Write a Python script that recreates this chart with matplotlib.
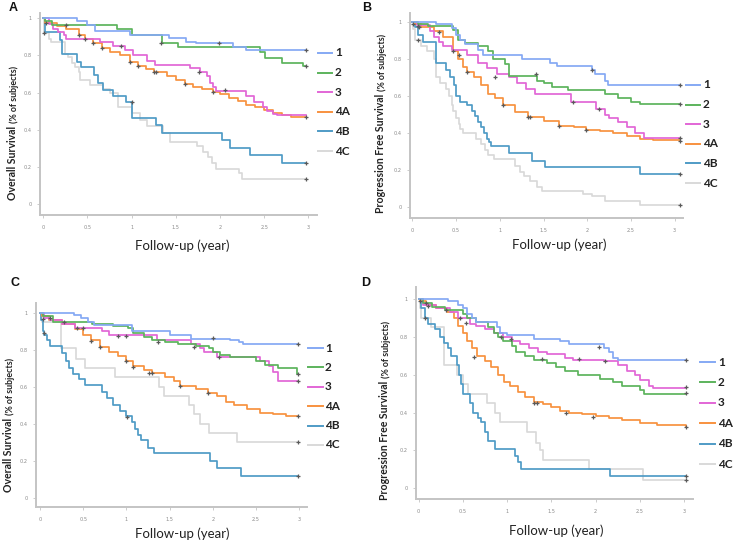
import numpy as np
import matplotlib
matplotlib.use('Agg')
import matplotlib.pyplot as plt
from matplotlib.lines import Line2D

# ---------------- data ----------------
groups = ['1', '2', '3', '4A', '4B', '4C']
x_ticks = [0, 0.5, 1, 1.5, 2, 2.5, 3]
x_tick_labels = ['0', '0.5', '1', '1.5', '2', '2.5', '3']
y_ticks = [0, 0.2, 0.4, 0.6, 0.8, 1.0]
y_tick_labels = ['0', '0.2', '0.4', '0.6', '0.8', '1']
panel_letters = ['A', 'B', 'C', 'D']
ylabel_main = ['Overall Survival', 'Progression Free Survival',
               'Overall Survival', 'Progression Free Survival']
ylabel_sub = '(% of subjects)'
xlabel = 'Follow-up (year)'

# Panel A (overall survival)
A1_t = [0, 0.38, 0.49, 0.58, 0.98, 1.42, 1.62, 1.73, 2.15, 2.3, 2.97]
A1_s = [1.0, 0.987, 0.964, 0.93, 0.912, 0.893, 0.875, 0.865, 0.847, 0.83, 0.83]
A2_t = [0, 0.02, 0.1, 0.83, 1.0, 1.34, 1.53, 2.45, 2.51, 2.7, 2.94, 2.97]
A2_s = [1.0, 0.985, 0.965, 0.94, 0.91, 0.865, 0.844, 0.82, 0.785, 0.76, 0.745, 0.745]
A3_t = [0, 0.06, 0.11, 0.17, 0.23, 0.26, 0.64, 0.79, 0.92, 1.02, 1.17, 1.26, 1.66, 1.77,
        1.85, 1.89, 1.92, 1.96, 2.3, 2.38, 2.49, 2.53, 2.6, 2.64, 2.97]
A3_s = [1.0, 0.97, 0.945, 0.925, 0.91, 0.89, 0.875, 0.85, 0.83, 0.8, 0.77, 0.75, 0.73, 0.71,
        0.69, 0.65, 0.63, 0.61, 0.58, 0.55, 0.525, 0.5, 0.485, 0.48, 0.48]
A4_t = [0, 0.02, 0.15, 0.26, 0.4, 0.47, 0.56, 0.66, 0.75, 0.87, 0.98, 1.07, 1.16, 1.25, 1.4,
        1.5, 1.6, 1.7, 1.8, 1.92, 2.0, 2.1, 2.2, 2.3, 2.4, 2.5, 2.6, 2.7, 2.8, 2.97]
A4_s = [1.0, 0.977, 0.96, 0.94, 0.91, 0.889, 0.865, 0.838, 0.82, 0.8, 0.767, 0.743, 0.728,
        0.713, 0.69, 0.668, 0.645, 0.63, 0.618, 0.605, 0.59, 0.572, 0.555, 0.535, 0.52,
        0.505, 0.49, 0.477, 0.468, 0.467]
A5_t = [0, 0.02, 0.19, 0.21, 0.38, 0.43, 0.57, 0.62, 0.68, 0.79, 0.94, 1.0, 1.28, 1.34,
        2.02, 2.11, 2.34, 2.7, 2.97]
A5_s = [1.0, 0.928, 0.883, 0.81, 0.767, 0.74, 0.695, 0.65, 0.614, 0.58, 0.55, 0.465, 0.425,
        0.384, 0.345, 0.3, 0.264, 0.223, 0.223]
A6_t = [0, 0.01, 0.07, 0.09, 0.25, 0.28, 0.32, 0.36, 0.4, 0.42, 0.53, 0.68, 0.75, 0.85, 1.0,
        1.09, 1.17, 1.36, 1.43, 1.74, 1.81, 1.87, 1.91, 1.96, 2.21, 2.25, 2.97]
A6_s = [1.0, 0.92, 0.89, 0.87, 0.81, 0.79, 0.76, 0.74, 0.71, 0.67, 0.64, 0.62, 0.6, 0.524,
        0.488, 0.45, 0.42, 0.38, 0.336, 0.31, 0.28, 0.255, 0.22, 0.19, 0.165, 0.135, 0.135]
A_cens_t = [0.03, 0.01, 0.26, 0.4, 0.47, 0.56, 0.66, 0.88, 0.98, 1.0, 1.07, 1.25, 1.28, 1.33,
            1.6, 1.76, 1.92, 1.99, 2.06, 2.97, 2.97, 2.97, 2.97, 2.97]
A_cens_s = [0.975, 0.923, 0.965, 0.91, 0.889, 0.865, 0.838, 0.853, 0.767, 0.551, 0.743,
            0.713, 0.709, 0.865, 0.645, 0.713, 0.605, 0.865, 0.614, 0.83, 0.745, 0.467,
            0.223, 0.135]

# Panel B (progression free survival)
B1_t = [0, 0.27, 0.45, 0.5, 0.54, 0.6, 0.75, 0.81, 1.25, 1.57, 1.65, 2.05, 2.09, 2.2, 2.24, 3.06]
B1_s = [1.0, 0.985, 0.965, 0.93, 0.9, 0.88, 0.85, 0.82, 0.8, 0.78, 0.76, 0.74, 0.72, 0.68, 0.66, 0.66]
B2_t = [0, 0.06, 0.18, 0.47, 0.52, 0.6, 0.75, 0.87, 0.92, 1.06, 1.1, 1.42, 1.5, 1.6, 1.78,
        2.2, 2.35, 2.5, 2.6, 3.06]
B2_s = [1.0, 0.99, 0.975, 0.955, 0.9, 0.885, 0.87, 0.84, 0.8, 0.77, 0.71, 0.68, 0.67, 0.65,
        0.63, 0.61, 0.59, 0.57, 0.555, 0.555]
B3_t = [0, 0.05, 0.2, 0.25, 0.3, 0.35, 0.45, 0.62, 0.75, 0.85, 0.97, 1.1, 1.2, 1.3, 1.4,
        1.82, 2.1, 2.2, 2.25, 2.35, 2.45, 2.55, 2.65, 3.06]
B3_s = [1.0, 0.98, 0.95, 0.92, 0.89, 0.87, 0.85, 0.82, 0.78, 0.75, 0.72, 0.7, 0.67, 0.64,
        0.61, 0.57, 0.53, 0.5, 0.48, 0.46, 0.43, 0.4, 0.375, 0.375]
B4_t = [0, 0.02, 0.1, 0.25, 0.35, 0.46, 0.52, 0.58, 0.62, 0.7, 0.79, 0.87, 0.94, 1.04, 1.17,
        1.32, 1.5, 1.68, 1.85, 1.99, 2.15, 2.3, 2.45, 2.6, 2.75, 3.06]
B4_s = [1.0, 0.99, 0.973, 0.95, 0.92, 0.842, 0.8, 0.755, 0.727, 0.7, 0.66, 0.61, 0.587,
        0.55, 0.515, 0.488, 0.465, 0.44, 0.43, 0.416, 0.41, 0.4, 0.385, 0.37, 0.36, 0.355]
B5_t = [0, 0.03, 0.07, 0.12, 0.27, 0.39, 0.43, 0.48, 0.5, 0.54, 0.63, 0.68, 0.72, 0.75, 0.78,
        0.82, 0.85, 0.88, 0.9, 1.1, 1.37, 1.52, 2.6, 3.06]
B5_s = [1.0, 0.97, 0.93, 0.89, 0.78, 0.74, 0.7, 0.66, 0.6, 0.57, 0.55, 0.52, 0.49, 0.46,
        0.43, 0.4, 0.37, 0.35, 0.33, 0.29, 0.25, 0.215, 0.18, 0.18]
B6_t = [0, 0.01, 0.03, 0.1, 0.17, 0.25, 0.27, 0.32, 0.38, 0.42, 0.45, 0.47, 0.5, 0.53, 0.55,
        0.58, 0.73, 0.78, 0.83, 0.87, 0.93, 1.17, 1.23, 1.28, 1.35, 1.42, 1.48, 1.95, 2.05,
        2.2, 2.6, 3.06]
B6_s = [1.0, 0.96, 0.9, 0.87, 0.84, 0.8, 0.7, 0.67, 0.64, 0.6, 0.55, 0.52, 0.48, 0.45, 0.42,
        0.4, 0.37, 0.34, 0.31, 0.28, 0.26, 0.22, 0.19, 0.17, 0.14, 0.11, 0.09, 0.07, 0.06,
        0.035, 0.01, 0.01]
B_cens_t = [0.01, 0.06, 0.08, 0.07, 0.3, 0.46, 0.53, 0.62, 0.94, 1.04, 1.32, 1.35, 1.41, 1.68,
            1.84, 1.99, 2.06, 2.13, 3.06, 3.06, 3.06, 3.06, 3.06, 3.06]
B_cens_s = [0.99, 0.975, 0.97, 0.9, 0.946, 0.842, 0.82, 0.727, 0.704, 0.55, 0.488, 0.485,
            0.718, 0.44, 0.569, 0.416, 0.74, 0.528, 0.66, 0.555, 0.375, 0.355, 0.18, 0.01]

# Panel C (overall survival)
C1_t = [0, 0.39, 0.48, 0.55, 0.62, 1.06, 1.5, 1.75, 2.2, 2.3, 2.35, 2.99]
C1_s = [1.0, 0.99, 0.97, 0.95, 0.935, 0.9, 0.88, 0.86, 0.85, 0.84, 0.83, 0.83]
C2_t = [0, 0.03, 0.15, 0.6, 0.85, 1.02, 1.08, 1.2, 1.3, 1.45, 1.6, 1.8, 1.95, 2.0, 2.08,
        2.2, 2.5, 2.6, 2.75, 2.97, 2.99]
C2_s = [1.0, 0.98, 0.95, 0.94, 0.93, 0.915, 0.89, 0.87, 0.85, 0.84, 0.83, 0.82, 0.81, 0.79,
        0.77, 0.76, 0.74, 0.72, 0.7, 0.67, 0.67]
C3_t = [0, 0.05, 0.12, 0.25, 0.4, 0.72, 0.8, 1.35, 1.75, 1.85, 1.9, 2.05, 2.55, 2.65, 2.7,
        2.75, 2.99]
C3_s = [1.0, 0.97, 0.96, 0.94, 0.92, 0.9, 0.88, 0.85, 0.83, 0.81, 0.79, 0.76, 0.74, 0.71,
        0.68, 0.63, 0.63]
C4_t = [0, 0.02, 0.1, 0.25, 0.4, 0.5, 0.59, 0.69, 0.8, 0.9, 1.0, 1.08, 1.2, 1.3, 1.45, 1.55,
        1.62, 1.8, 1.94, 2.05, 2.15, 2.25, 2.4, 2.55, 2.7, 2.85, 2.99]
C4_s = [1.0, 0.98, 0.96, 0.94, 0.91, 0.88, 0.85, 0.815, 0.79, 0.765, 0.74, 0.71, 0.69,
        0.675, 0.65, 0.63, 0.605, 0.585, 0.568, 0.55, 0.52, 0.5, 0.48, 0.46, 0.45, 0.44, 0.44]
C5_t = [0, 0.01, 0.03, 0.05, 0.08, 0.12, 0.25, 0.3, 0.33, 0.38, 0.45, 0.52, 0.72, 0.77, 0.85,
        0.92, 1.0, 1.07, 1.1, 1.13, 1.17, 1.25, 1.32, 1.97, 2.05, 2.32, 2.99]
C5_s = [1.0, 0.96, 0.9, 0.88, 0.85, 0.82, 0.78, 0.74, 0.7, 0.67, 0.64, 0.61, 0.57, 0.54, 0.5,
        0.47, 0.44, 0.41, 0.37, 0.34, 0.31, 0.27, 0.24, 0.2, 0.16, 0.12, 0.12]
C6_t = [0, 0.02, 0.24, 0.42, 0.52, 0.87, 1.38, 1.43, 1.72, 1.78, 1.85, 1.96, 2.28, 2.99]
C6_s = [1.0, 0.95, 0.81, 0.75, 0.7, 0.65, 0.6, 0.55, 0.5, 0.45, 0.4, 0.35, 0.3, 0.3]
C_cens_t = [0.04, 0.05, 0.12, 0.28, 0.43, 0.5, 0.59, 0.69, 0.9, 0.99, 1.0, 1.01, 1.08, 1.26,
            1.3, 1.36, 1.62, 1.78, 1.94, 2.0, 2.07, 2.99, 2.99, 2.99, 2.99, 2.99, 2.99]
C_cens_s = [0.964, 0.892, 0.97, 0.948, 0.915, 0.915, 0.849, 0.816, 0.874, 0.874, 0.74,
            0.434, 0.708, 0.676, 0.672, 0.84, 0.604, 0.816, 0.568, 0.861, 0.759, 0.83,
            0.67, 0.63, 0.44, 0.3, 0.12]

# Panel D (progression free survival)
D1_t = [0, 0.33, 0.45, 0.5, 0.55, 0.6, 0.65, 0.88, 0.92, 1.0, 1.3, 1.6, 1.7, 2.1, 2.15, 2.2,
        2.25, 3.02]
D1_s = [1.0, 0.99, 0.97, 0.95, 0.92, 0.9, 0.88, 0.85, 0.82, 0.81, 0.79, 0.78, 0.76, 0.74,
        0.72, 0.69, 0.68, 0.68]
D2_t = [0, 0.05, 0.15, 0.3, 0.5, 0.55, 0.65, 0.78, 0.85, 0.9, 0.95, 1.05, 1.1, 1.2, 1.3,
        1.45, 1.55, 1.65, 1.8, 2.05, 2.2, 2.3, 2.5, 2.55, 3.02]
D2_s = [1.0, 0.98, 0.96, 0.94, 0.92, 0.9, 0.88, 0.85, 0.82, 0.8, 0.78, 0.75, 0.72, 0.7, 0.68,
        0.66, 0.64, 0.62, 0.6, 0.58, 0.56, 0.54, 0.52, 0.5, 0.5]
D3_t = [0, 0.05, 0.2, 0.35, 0.45, 0.58, 0.65, 0.75, 0.85, 0.95, 1.05, 1.15, 1.25, 1.35, 1.45,
        1.65, 1.75, 2.1, 2.25, 2.35, 2.45, 2.5, 2.6, 2.65, 3.02]
D3_s = [1.0, 0.97, 0.95, 0.93, 0.9, 0.87, 0.86, 0.84, 0.82, 0.8, 0.78, 0.76, 0.74, 0.72, 0.71,
        0.69, 0.68, 0.67, 0.65, 0.62, 0.6, 0.57, 0.54, 0.53, 0.53]
D4_t = [0, 0.02, 0.08, 0.2, 0.32, 0.4, 0.45, 0.5, 0.55, 0.6, 0.66, 0.75, 0.82, 0.9, 0.97,
        1.03, 1.12, 1.2, 1.3, 1.4, 1.5, 1.6, 1.7, 1.85, 2.0, 2.15, 2.3, 2.5, 2.7, 3.02]
D4_s = [1.0, 0.99, 0.97, 0.95, 0.93, 0.9, 0.86, 0.82, 0.78, 0.74, 0.7, 0.67, 0.64, 0.6, 0.56,
        0.54, 0.51, 0.48, 0.455, 0.445, 0.43, 0.41, 0.4, 0.39, 0.38, 0.37, 0.36, 0.345,
        0.335, 0.325]
D5_t = [0, 0.03, 0.07, 0.1, 0.18, 0.24, 0.29, 0.33, 0.37, 0.43, 0.46, 0.48, 0.5, 0.58, 0.61,
        0.67, 0.71, 0.75, 0.78, 0.86, 1.09, 1.12, 1.16, 2.16, 3.02]
D5_s = [1.0, 0.95, 0.9, 0.87, 0.84, 0.8, 0.77, 0.74, 0.7, 0.65, 0.6, 0.55, 0.5, 0.45, 0.4,
        0.37, 0.35, 0.3, 0.25, 0.21, 0.17, 0.14, 0.1, 0.065, 0.065]
D6_t = [0, 0.01, 0.03, 0.14, 0.29, 0.43, 0.5, 0.56, 0.77, 0.86, 0.92, 1.23, 1.33, 1.37, 1.41,
        1.93, 2.54, 3.02]
D6_s = [1.0, 0.95, 0.9, 0.85, 0.65, 0.6, 0.55, 0.5, 0.45, 0.4, 0.35, 0.3, 0.24, 0.2, 0.15,
        0.1, 0.045, 0.045]
D_cens_t = [0.02, 0.08, 0.1, 0.07, 0.31, 0.47, 0.54, 0.63, 0.93, 1.04, 1.3, 1.34, 1.39, 1.67,
            1.81, 1.97, 2.04, 2.11, 3.02, 3.02, 3.02, 3.02, 3.02, 3.02]
D_cens_s = [0.991, 0.977, 0.963, 0.901, 0.942, 0.898, 0.871, 0.692, 0.801, 0.787, 0.449,
            0.449, 0.681, 0.4, 0.681, 0.379, 0.748, 0.673, 0.68, 0.533, 0.502, 0.326,
            0.065, 0.044]

# ---------------- styling / layout ----------------
colors = ['#85a9f4', '#5cb35c', '#e266d6', '#f8923f', '#4f9bc6', '#d9d9d9']
W, H = 738, 545
FONT = 'Lato'
fig = plt.figure(figsize=(W / 100, H / 100), dpi=100)

# pixel geometry: axes box (l, r, top, bottom), data anchor pixels (x=0, x=3, y=1, y=0)
geom = [
    dict(l=40, r=317, t=13, b=215, x0=43.3, x3=308.3, y1=18.3, y0=204.0),
    dict(l=410, r=683, t=13, b=218, x0=412.3, x3=674.7, y1=21.7, y0=207.3),
    dict(l=36, r=307, t=303, b=507, x0=40.0, x3=299.3, y1=312.7, y0=497.7),
    dict(l=416, r=693, t=287, b=499, x0=418.7, x3=684.0, y1=299.0, y0=488.3),
]
legend_geom = [
    dict(lx0=318, lx1=332, tx=335, y=53, dy=19.6),
    dict(lx0=686, lx1=700, tx=703, y=85, dy=19.6),
    dict(lx0=308, lx1=323, tx=325, y=348, dy=19.4),
    dict(lx0=700, lx1=715, tx=718, y=362, dy=20.4),
]
letter_pos = [(13, 8), (367, 8), (15, 283), (366, 283)]
ylabel_geom = [(13, 200), (381, 213), (9, 492), (385, 500)]
xlabel_pos = [(182, 246), (559, 245), (182, 534), (556, 531)]

panels = [
    ([A1_t, A2_t, A3_t, A4_t, A5_t, A6_t], [A1_s, A2_s, A3_s, A4_s, A5_s, A6_s], A_cens_t, A_cens_s),
    ([B1_t, B2_t, B3_t, B4_t, B5_t, B6_t], [B1_s, B2_s, B3_s, B4_s, B5_s, B6_s], B_cens_t, B_cens_s),
    ([C1_t, C2_t, C3_t, C4_t, C5_t, C6_t], [C1_s, C2_s, C3_s, C4_s, C5_s, C6_s], C_cens_t, C_cens_s),
    ([D1_t, D2_t, D3_t, D4_t, D5_t, D6_t], [D1_s, D2_s, D3_s, D4_s, D5_s, D6_s], D_cens_t, D_cens_s),
]

def fx(px):
    return px / W

def fy(py):
    return 1 - py / H

renderer = fig.canvas.get_renderer()

for i, (ts, ss, ct, cs) in enumerate(panels):
    g = geom[i]
    ax = fig.add_axes([fx(g['l']), fy(g['b']), (g['r'] - g['l']) / W, (g['b'] - g['t']) / H])
    xs = (g['x3'] - g['x0']) / 3.0
    ys = (g['y0'] - g['y1'])
    ax.set_xlim((g['l'] - g['x0']) / xs, (g['r'] - g['x0']) / xs)
    ax.set_ylim((g['y0'] - g['b']) / ys, (g['y0'] - g['t']) / ys)
    ax.patch.set_alpha(0)
    for sp in ['top', 'right']:
        ax.spines[sp].set_visible(False)
    for sp in ['left', 'bottom']:
        ax.spines[sp].set_color('#c4c4c4')
        ax.spines[sp].set_linewidth(1.4)
    ax.set_xticks(x_ticks)
    ax.set_xticklabels(x_tick_labels)
    ax.set_yticks(y_ticks)
    ax.set_yticklabels(y_tick_labels)
    ax.tick_params(length=2, width=0.6, color='#c4c4c4', labelsize=3.6,
                   labelcolor='#8a8a8a', pad=4)
    ax.tick_params(axis='x', pad=5.5)
    for k in range(5, -1, -1):
        ax.step(ts[k], ss[k], where='post', color=colors[k], lw=1.25, zorder=3 + (5 - k) * 0.1)
    ax.plot(ct, cs, linestyle='none', marker='+', ms=3.5, mew=0.9, color='#5a5a5a', zorder=5)

    # legend
    lg = legend_geom[i]
    for k, name in enumerate(groups):
        yy = lg['y'] + k * lg['dy']
        fig.add_artist(Line2D([fx(lg['lx0']), fx(lg['lx1'])], [fy(yy), fy(yy)],
                              color=colors[k], lw=1.4, transform=fig.transFigure))
        fig.text(fx(lg['tx']), fy(yy), name, fontsize=8.5, fontweight='bold', family=FONT,
                 color='#222222', va='center', ha='left')

    # panel letter
    lx, ly = letter_pos[i]
    fig.text(fx(lx), fy(ly), panel_letters[i], fontsize=9, fontweight='bold',
             family='Liberation Sans', ha='center', va='center', color='#111111')

    # x label
    xx, xy = xlabel_pos[i]
    fig.text(fx(xx), fy(xy), xlabel, fontsize=9.5, family=FONT, ha='center', va='center',
             color='#222222')

    # y label (main + smaller sub part)
    yx, yb = ylabel_geom[i]
    t1 = fig.text(fx(yx), fy(yb), ylabel_main[i], rotation=90, fontsize=7.6,
                  fontweight='bold', family=FONT, ha='center', va='bottom', color='#222222')
    bb = t1.get_window_extent(renderer)
    fig.text(fx(yx + 0.8), (bb.y1 + 3) / H, ylabel_sub, rotation=90, fontsize=6.4,
             fontweight='bold', family=FONT, ha='center', va='bottom', color='#222222')

fig.savefig('out.png', dpi=100)
